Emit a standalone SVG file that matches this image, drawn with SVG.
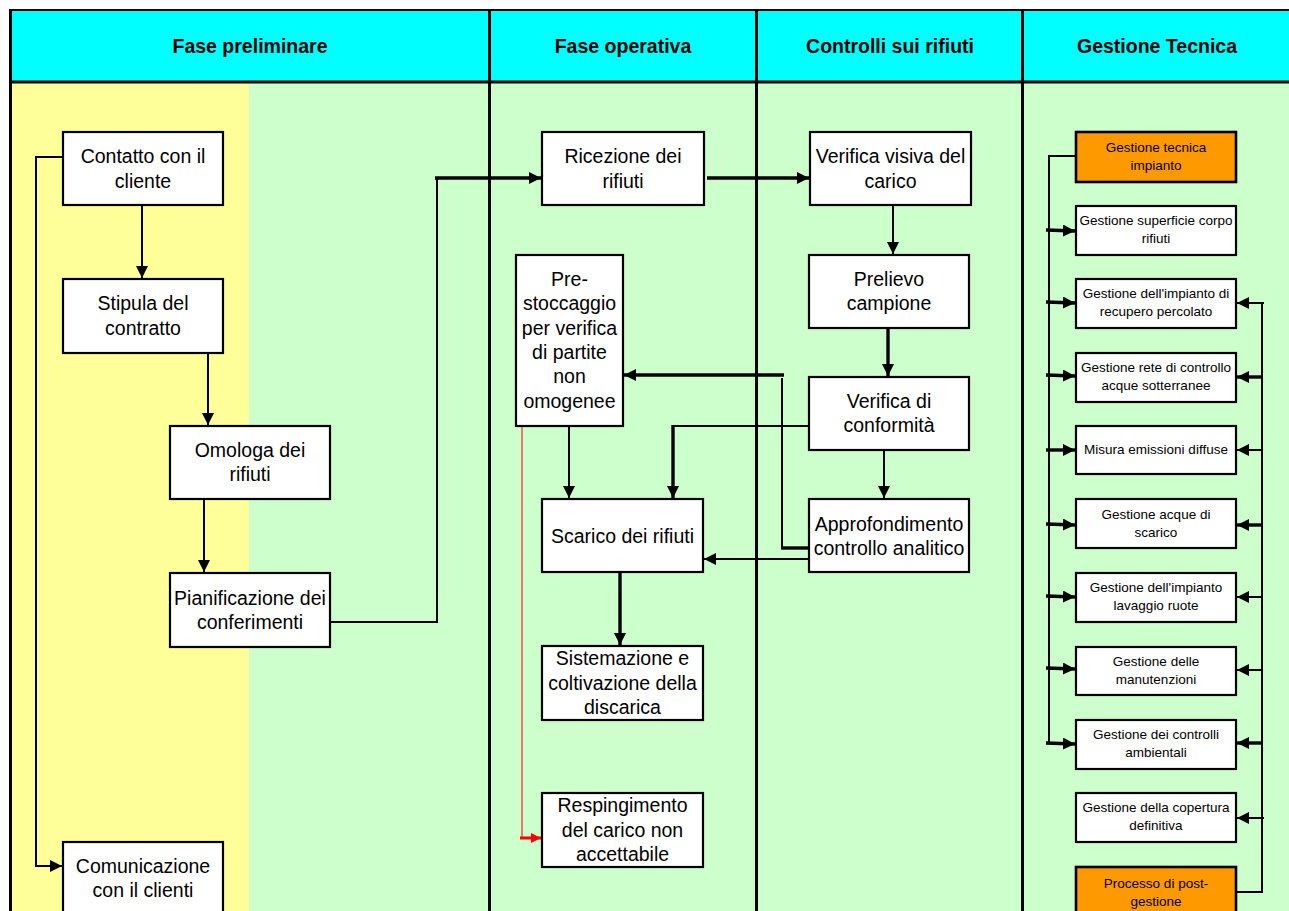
<svg xmlns="http://www.w3.org/2000/svg" width="1289" height="911" viewBox="0 0 1289 911">
<style>
.hdr{font-family:"Liberation Sans",Arial,sans-serif;font-weight:bold;font-size:19.5px;text-anchor:middle;fill:#000}
.t{font-family:"Liberation Sans",Arial,sans-serif;font-size:19.5px;text-anchor:middle;fill:#000}
.s{font-family:"Liberation Sans",Arial,sans-serif;font-size:13.5px;text-anchor:middle;fill:#000}
.box{fill:#fff;stroke:#000;stroke-width:2.2}
.obox{fill:#FF9900;stroke:#000;stroke-width:2.6}
.ln{fill:none;stroke:#000;stroke-width:2}
.th{fill:none;stroke:#000;stroke-width:3.4}
.div{stroke:#000;stroke-width:3;fill:none}
</style>
<defs>
<marker id="ah" viewBox="0 0 12 12" refX="12" refY="6" markerWidth="12" markerHeight="12" markerUnits="userSpaceOnUse" orient="auto">
<path d="M0,0 L12,6 L0,12 z" fill="#000"/>
</marker>
<marker id="ahr" viewBox="0 0 10 10" refX="10" refY="5" markerWidth="10" markerHeight="10" markerUnits="userSpaceOnUse" orient="auto">
<path d="M0,0 L10,5 L0,10 z" fill="#FF0000"/>
</marker>
</defs>

<g id="background">
<rect x="10" y="10" width="1279" height="72" fill="#00FFFF"/>
<rect x="10" y="82" width="239" height="829" fill="#FFFF99"/>
<rect x="249" y="82" width="1040" height="829" fill="#CCFFCC"/>
<line x1="10" y1="10" x2="1289" y2="10" stroke="#000" stroke-width="2"/>
<line x1="10" y1="82" x2="1289" y2="82" stroke="#000" stroke-width="3"/>
<line class="div" x1="10.5" y1="9" x2="10.5" y2="911"/>
<line class="div" x1="489.5" y1="10" x2="489.5" y2="911"/>
<line class="div" x1="756.5" y1="10" x2="756.5" y2="911"/>
<line class="div" x1="1022.5" y1="10" x2="1022.5" y2="911"/>
<text class="hdr" x="250" y="53">Fase preliminare</text>
<text class="hdr" x="623" y="53">Fase operativa</text>
<text class="hdr" x="890" y="53">Controlli sui rifiuti</text>
<text class="hdr" x="1157" y="53">Gestione Tecnica</text>
</g>

<g id="connectors">
<polyline class="ln" points="63,157 36,157 36,866 62,866" marker-end="url(#ah)"/>
<line class="ln" x1="142" y1="205" x2="142" y2="278" marker-end="url(#ah)"/>
<line class="ln" x1="208" y1="353" x2="208" y2="425" marker-end="url(#ah)"/>
<line class="ln" x1="204" y1="499" x2="204" y2="572" marker-end="url(#ah)"/>
<polyline class="ln" points="330,622 437,622 437,178"/>
<line class="th" x1="435" y1="178" x2="541" y2="178" stroke-width="3" marker-end="url(#ah)"/>
<line class="th" x1="707" y1="178" x2="809" y2="178" marker-end="url(#ah)"/>
<line class="ln" x1="893" y1="205" x2="893" y2="254" marker-end="url(#ah)"/>
<line class="th" x1="888" y1="328" x2="888" y2="376" marker-end="url(#ah)"/>
<line class="ln" x1="884" y1="450" x2="884" y2="498" marker-end="url(#ah)"/>
<line class="th" x1="809" y1="548" x2="781" y2="548"/>
<line class="ln" x1="782" y1="548" x2="782" y2="378"/>
<line class="th" x1="784" y1="375" x2="624" y2="375" marker-end="url(#ah)"/>
<line class="ln" x1="809" y1="426" x2="672" y2="426"/>
<line class="th" x1="673" y1="425" x2="673" y2="498" marker-end="url(#ah)"/>
<line class="ln" x1="809" y1="559" x2="704" y2="559" marker-end="url(#ah)"/>
<line class="ln" x1="569" y1="426" x2="569" y2="498" marker-end="url(#ah)"/>
<line class="th" x1="620" y1="572" x2="620" y2="645" marker-end="url(#ah)"/>
<line x1="522" y1="426" x2="522" y2="838" stroke="#FF0000" stroke-width="1"/>
<line x1="520" y1="838" x2="541" y2="838" stroke="#FF0000" stroke-width="3" marker-end="url(#ahr)"/>
<polyline class="ln" points="1076,156 1049,156 1049,743"/>
<line class="th" x1="1046" y1="230" x2="1075" y2="231" stroke-width="3" marker-end="url(#ah)"/>
<line class="th" x1="1046" y1="302" x2="1075" y2="303" stroke-width="3" marker-end="url(#ah)"/>
<line class="th" x1="1046" y1="375" x2="1075" y2="376" stroke-width="3" marker-end="url(#ah)"/>
<line class="th" x1="1046" y1="450" x2="1075" y2="450" stroke-width="3" marker-end="url(#ah)"/>
<line class="th" x1="1046" y1="524" x2="1075" y2="525" stroke-width="3" marker-end="url(#ah)"/>
<line class="th" x1="1046" y1="596" x2="1075" y2="597" stroke-width="3" marker-end="url(#ah)"/>
<line class="th" x1="1046" y1="668" x2="1075" y2="669" stroke-width="3" marker-end="url(#ah)"/>
<line class="th" x1="1046" y1="743" x2="1075" y2="744" stroke-width="3" marker-end="url(#ah)"/>
<polyline class="ln" points="1236,892 1262,892 1262,302"/>
<line class="ln" x1="1264" y1="303" x2="1237" y2="303" marker-end="url(#ah)"/>
<line class="th" x1="1262" y1="377" x2="1237" y2="377" stroke-width="3" marker-end="url(#ah)"/>
<line class="ln" x1="1262" y1="450" x2="1237" y2="450" stroke-width="2.5" marker-end="url(#ah)"/>
<line class="th" x1="1262" y1="525" x2="1237" y2="525" stroke-width="3" marker-end="url(#ah)"/>
<line class="ln" x1="1262" y1="597" x2="1237" y2="597" marker-end="url(#ah)"/>
<line class="ln" x1="1262" y1="670" x2="1237" y2="670" marker-end="url(#ah)"/>
<line class="th" x1="1262" y1="743" x2="1237" y2="743" stroke-width="3" marker-end="url(#ah)"/>
<line class="ln" x1="1264" y1="818" x2="1237" y2="818" marker-end="url(#ah)"/>
</g>

<g id="n-contatto"><rect class="box" x="63" y="132" width="160" height="73"/><text class="t" x="143" y="163">Contatto con il</text><text class="t" x="143" y="188">cliente</text></g>
<g id="n-stipula"><rect class="box" x="63" y="279" width="160" height="74"/><text class="t" x="143" y="310">Stipula del</text><text class="t" x="143" y="335">contratto</text></g>
<g id="n-omologa"><rect class="box" x="170" y="426" width="160" height="73"/><text class="t" x="250" y="457">Omologa dei</text><text class="t" x="250" y="481">rifiuti</text></g>
<g id="n-pianificazione"><rect class="box" x="170" y="573" width="160" height="74"/><text class="t" x="250" y="605">Pianificazione dei</text><text class="t" x="250" y="629">conferimenti</text></g>
<g id="n-comunicazione"><rect class="box" x="63" y="842" width="160" height="80"/><text class="t" x="143" y="873">Comunicazione</text><text class="t" x="143" y="897">con il clienti</text></g>

<g id="n-ricezione"><rect class="box" x="542" y="132" width="162" height="73"/><text class="t" x="623" y="163">Ricezione dei</text><text class="t" x="623" y="188">rifiuti</text></g>
<g id="n-prestoccaggio"><rect class="box" x="516" y="255" width="107" height="171"/>
<text class="t" x="569.5" y="286">Pre-</text><text class="t" x="569.5" y="310">stoccaggio</text><text class="t" x="569.5" y="335">per verifica</text><text class="t" x="569.5" y="359">di partite</text><text class="t" x="569.5" y="383">non</text><text class="t" x="569.5" y="408">omogenee</text></g>
<g id="n-scarico"><rect class="box" x="542" y="499" width="161" height="73"/><text class="t" x="622.5" y="543">Scarico dei rifiuti</text></g>
<g id="n-sistemazione"><rect class="box" x="542" y="646" width="161" height="74"/><text class="t" x="622.5" y="665">Sistemazione e</text><text class="t" x="622.5" y="690">coltivazione della</text><text class="t" x="622.5" y="714">discarica</text></g>
<g id="n-respingimento"><rect class="box" x="542" y="793" width="161" height="74"/><text class="t" x="622.5" y="812">Respingimento</text><text class="t" x="622.5" y="837">del carico non</text><text class="t" x="622.5" y="861">accettabile</text></g>

<g id="n-verificavisiva"><rect class="box" x="810" y="132" width="161" height="73"/><text class="t" x="890.5" y="163">Verifica visiva del</text><text class="t" x="890.5" y="188">carico</text></g>
<g id="n-prelievo"><rect class="box" x="809" y="255" width="160" height="73"/><text class="t" x="889" y="286">Prelievo</text><text class="t" x="889" y="310">campione</text></g>
<g id="n-conformita"><rect class="box" x="809" y="377" width="160" height="73"/><text class="t" x="889" y="408">Verifica di</text><text class="t" x="889" y="432">conformità</text></g>
<g id="n-approfondimento"><rect class="box" x="809" y="499" width="160" height="73"/><text class="t" x="889" y="531">Approfondimento</text><text class="t" x="889" y="555">controllo analitico</text></g>

<g id="n-gestionetecnica"><rect class="obox" x="1076" y="132" width="160" height="50"/><text class="s" x="1156" y="152">Gestione tecnica</text><text class="s" x="1156" y="170">impianto</text></g>
<g id="n-superficie"><rect class="box" x="1076" y="206" width="160" height="49"/><text class="s" x="1156" y="225">Gestione superficie corpo</text><text class="s" x="1156" y="243">rifiuti</text></g>
<g id="n-percolato"><rect class="box" x="1076" y="279" width="160" height="49"/><text class="s" x="1156" y="298">Gestione dell'impianto di</text><text class="s" x="1156" y="316">recupero percolato</text></g>
<g id="n-rete"><rect class="box" x="1076" y="353" width="160" height="49"/><text class="s" x="1156" y="372">Gestione rete di controllo</text><text class="s" x="1156" y="390">acque sotterranee</text></g>
<g id="n-emissioni"><rect class="box" x="1076" y="426" width="160" height="48"/><text class="s" x="1156" y="454">Misura emissioni diffuse</text></g>
<g id="n-scarico-acque"><rect class="box" x="1076" y="499" width="160" height="49"/><text class="s" x="1156" y="519">Gestione acque di</text><text class="s" x="1156" y="537">scarico</text></g>
<g id="n-lavaggio"><rect class="box" x="1076" y="573" width="160" height="49"/><text class="s" x="1156" y="592">Gestione dell'impianto</text><text class="s" x="1156" y="610">lavaggio ruote</text></g>
<g id="n-manutenzioni"><rect class="box" x="1076" y="647" width="160" height="48"/><text class="s" x="1156" y="666">Gestione delle</text><text class="s" x="1156" y="684">manutenzioni</text></g>
<g id="n-controlli"><rect class="box" x="1076" y="720" width="160" height="49"/><text class="s" x="1156" y="739">Gestione dei controlli</text><text class="s" x="1156" y="757">ambientali</text></g>
<g id="n-copertura"><rect class="box" x="1076" y="793" width="160" height="49"/><text class="s" x="1156" y="812">Gestione della copertura</text><text class="s" x="1156" y="830">definitiva</text></g>
<g id="n-postgestione"><rect class="obox" x="1076" y="867" width="160" height="55"/><text class="s" x="1156" y="888">Processo di post-</text><text class="s" x="1156" y="906">gestione</text></g>
</svg>
